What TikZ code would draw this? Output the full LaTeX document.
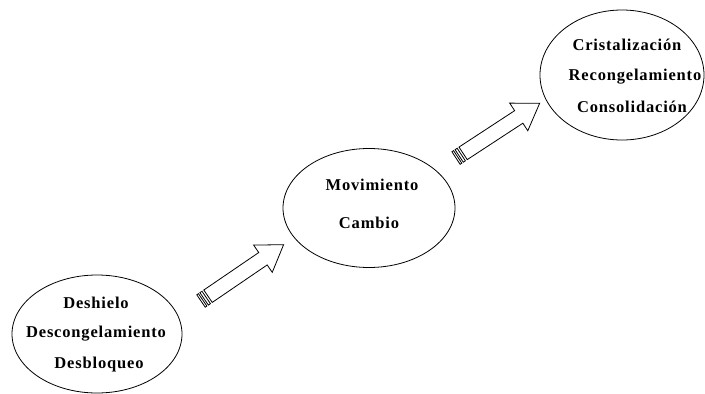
\documentclass[tikz,border=0pt]{standalone}
\usepackage{fontspec}
\newfontfamily\lblfont{Liberation Serif}[LetterSpace=5]
\usetikzlibrary{shapes.geometric}

\tikzset{
  stage/.style={ellipse, draw, line width=0.8pt, inner sep=0pt},
  word/.style={font=\lblfont\bfseries\fontsize{16.5}{19}\selectfont, inner sep=0pt, anchor=center},
  outline/.style={draw, line width=0.8pt, fill=white, line join=miter},
  % striped block arrow drawn along +x, tail at the origin, tip at (100,0)
  stripedarrow/.pic={
    \draw[outline] (0,-7.5) rectangle (2,7.5);
    \draw[outline] (3.8,-7.5) rectangle (6.3,7.5);
    \draw[outline] (8.5,-7.5) -- (75,-7.5) -- (75,-16.5) -- (100,0)
                   -- (75,16.5) -- (75,7.5) -- (8.5,7.5) -- cycle;
  }
}

\begin{document}
\begin{tikzpicture}[x=1pt,y=-1pt]
  \useasboundingbox (0,0) rectangle (705,394);

  % the three stages
  \node[stage, minimum width=170pt, minimum height=118pt] (thaw)   at (97,334)  {};
  \node[stage, minimum width=172pt, minimum height=119pt] (move)   at (369,208) {};
  \node[stage, minimum width=164pt, minimum height=130pt] (freeze) at (622,75)  {};

  % labels of the first stage
  \node[word] (t1) at (96,303) {Deshielo};
  \node[word] (t2) at (96,334) {Descongelamiento};
  \node[word] (t3) at (99,365) {Desbloqueo};

  % labels of the second stage
  \node[word] (m1) at (372,185) {Movimiento};
  \node[word] (m2) at (369,223) {Cambio};

  % labels of the third stage
  \node[word] (f1) at (627,45)  {Cristalización};
  \node[word] (f2) at (635,77)  {Recongelamiento};
  \node[word] (f3) at (632,107) {Consolidación};

  % block arrows between the stages
  \coordinate (a1tail) at (201,301);
  \coordinate (a2tail) at (456,158);
  \pic[rotate=34.3] at (a1tail) {stripedarrow};
  \pic[rotate=33.2] at (a2tail) {stripedarrow};
\end{tikzpicture}
\end{document}
